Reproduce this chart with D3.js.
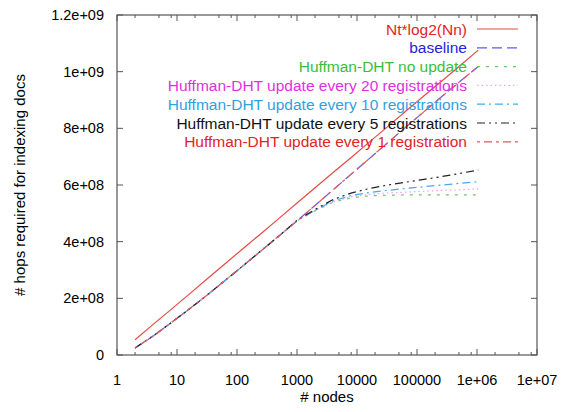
<!DOCTYPE html>
<html>
<head>
<meta charset="utf-8">
<script src="https://cdn.jsdelivr.net/npm/d3@7"></script>
<style>
  body { margin: 0; background: #fff; }
  svg { font-family: "Liberation Sans", Arial, Helvetica, sans-serif; }
</style>
</head>
<body>
<svg id="chart" width="565" height="412"></svg>
<script>
// nodes: powers of two, 2 .. 2^20
const nodes = [2, 4, 8, 16, 32, 64, 128, 256, 512, 1024, 2048, 4096, 8192, 16384,
               32768, 65536, 131072, 262144, 524288, 1048576];

// hops
const ntLog = [54e6, 108e6, 161e6, 215e6, 269e6, 323e6, 377e6, 430e6, 484e6, 538e6,
               592e6, 646e6, 699e6, 753e6, 807e6, 861e6, 915e6, 968e6, 1022e6, 1076e6];
const baseline = [25e6, 67e6, 114e6, 162e6, 212e6, 264e6, 316e6, 369e6, 422e6, 475e6,
                  530e6, 585e6, 640e6, 695e6, 750e6, 805e6, 859e6, 913e6, 966e6, 1018e6];
const noUpdate = [25e6, 67e6, 114e6, 162e6, 212e6, 264e6, 316e6, 369e6, 422e6, 475e6,
                  510e6, 540e6, 555e6, 562e6, 564e6, 565e6, 565e6, 565e6, 565e6, 565e6];
const every20 = [25e6, 67e6, 114e6, 162e6, 212e6, 264e6, 316e6, 369e6, 422e6, 475e6,
                 511e6, 542e6, 559e6, 567e6, 572e6, 575e6, 578e6, 581e6, 583e6, 586e6];
const every10 = [25e6, 67e6, 114e6, 162e6, 212e6, 264e6, 316e6, 369e6, 422e6, 476e6,
                 512e6, 545e6, 563e6, 574e6, 581e6, 588e6, 594e6, 600e6, 606e6, 612e6];
const every5 = [25e6, 67e6, 114e6, 162e6, 212e6, 264e6, 316e6, 369e6, 422e6, 477e6,
                515e6, 550e6, 572e6, 588e6, 600e6, 610e6, 620e6, 630e6, 641e6, 653e6];
const every1 = [25e6, 67e6, 114e6, 162e6, 212e6, 264e6, 316e6, 369e6, 422e6, 475e6,
                530e6, 585e6, 640e6, 695e6, 750e6, 805e6, 859e6, 913e6, 966e6, 1018e6];

const xTicks = [1, 10, 100, 1000, 10000, 100000, 1e6, 1e7];
const xTickLabels = ["1", "10", "100", "1000", "10000", "100000", "1e+06", "1e+07"];
const yTicks = [0, 2e8, 4e8, 6e8, 8e8, 1e9, 1.2e9];
const yTickLabels = ["0", "2e+08", "4e+08", "6e+08", "8e+08", "1e+09", "1.2e+09"];

const series = [
  {name: "Nt*log2(Nn)", values: ntLog, text: "#e02424", line: "#e84a44", dash: null},
  {name: "baseline", values: baseline, text: "#2424d8", line: "#5a5af0", dash: "10,5"},
  {name: "Huffman-DHT no update", values: noUpdate, text: "#38c038", line: "#66cc66", dash: "3,6"},
  {name: "Huffman-DHT update every 20 registrations", values: every20, text: "#e030e0", line: "#f0a0f0", dash: "1.5,3"},
  {name: "Huffman-DHT update every 10 registrations", values: every10, text: "#33a0e0", line: "#44aaee", dash: "8,4,2,4"},
  {name: "Huffman-DHT update every 5 registrations", values: every5, text: "#111111", line: "#222222", dash: "8,4,2,4,2,4"},
  {name: "Huffman-DHT update every 1 registration", values: every1, text: "#e02424", line: "#e05a5a", dash: "3,4,8,4"}
];

const svg = d3.select("#chart");
const mLeft = 117, mRight = 537, mTop = 15, mBottom = 355;

const x = d3.scaleLog().domain([1, 1e7]).range([mLeft, mRight]);
const y = d3.scaleLinear().domain([0, 1.2e9]).range([mBottom, mTop]);

const frame = "#555";

// minor ticks on x (2, 5, 8 per decade)
let minor = [];
for (let d = 0; d < 7; d++) {
  [2, 5, 8].forEach(m => minor.push(m * Math.pow(10, d)));
}

const g = svg.append("g");

// bottom / top ticks
g.selectAll(".xminor").data(minor).enter().append("line")
    .attr("x1", d => x(d)).attr("x2", d => x(d))
    .attr("y1", mBottom).attr("y2", mBottom - 3)
    .attr("stroke", frame);
g.selectAll(".xminorT").data(minor).enter().append("line")
    .attr("x1", d => x(d)).attr("x2", d => x(d))
    .attr("y1", mTop).attr("y2", mTop + 3)
    .attr("stroke", frame);
g.selectAll(".xmajor").data(xTicks).enter().append("line")
    .attr("x1", d => x(d)).attr("x2", d => x(d))
    .attr("y1", mBottom).attr("y2", mBottom - 6)
    .attr("stroke", frame);
g.selectAll(".xmajorT").data(xTicks).enter().append("line")
    .attr("x1", d => x(d)).attr("x2", d => x(d))
    .attr("y1", mTop).attr("y2", mTop + 6)
    .attr("stroke", frame);

// left / right ticks
g.selectAll(".yL").data(yTicks).enter().append("line")
    .attr("x1", mLeft).attr("x2", mLeft + 6)
    .attr("y1", d => y(d)).attr("y2", d => y(d))
    .attr("stroke", frame);
g.selectAll(".yR").data(yTicks).enter().append("line")
    .attr("x1", mRight).attr("x2", mRight - 6)
    .attr("y1", d => y(d)).attr("y2", d => y(d))
    .attr("stroke", frame);

// tick labels
g.selectAll(".xl").data(xTicks).enter().append("text")
    .attr("x", d => x(d)).attr("y", 385)
    .attr("text-anchor", "middle")
    .style("font-size", "14.5px")
    .text((d, i) => xTickLabels[i]);
g.selectAll(".yl").data(yTicks).enter().append("text")
    .attr("x", 104).attr("y", d => y(d) + 5)
    .attr("text-anchor", "end")
    .style("font-size", "14.5px")
    .text((d, i) => yTickLabels[i]);

// axis titles
svg.append("text")
    .attr("x", (mLeft + mRight) / 2).attr("y", 402)
    .attr("text-anchor", "middle")
    .style("font-size", "15px")
    .text("# nodes");
svg.append("text")
    .attr("transform", "translate(25," + ((mTop + mBottom) / 2) + ") rotate(-90)")
    .attr("text-anchor", "middle")
    .style("font-size", "15px")
    .text("# hops required for indexing docs");

// curves
const line = d3.line()
    .x((d, i) => x(nodes[i]))
    .y(d => y(d));

series.forEach(s => {
  svg.append("path")
      .datum(s.values)
      .attr("d", line)
      .attr("fill", "none")
      .attr("stroke", s.line)
      .attr("stroke-width", 1.2)
      .attr("stroke-dasharray", s.dash);
});

// legend
const legend = svg.append("g");
series.forEach((s, i) => {
  const ly = 29 + i * 18.8;
  legend.append("text")
      .attr("x", 467).attr("y", ly + 5.5)
      .attr("text-anchor", "end")
      .style("font-size", "15.5px")
      .attr("fill", s.text)
      .text(s.name);
  legend.append("line")
      .attr("x1", 477).attr("x2", 518)
      .attr("y1", ly).attr("y2", ly)
      .attr("stroke", s.line)
      .attr("stroke-width", 1.2)
      .attr("stroke-dasharray", s.dash);
});

// frame
svg.append("rect")
    .attr("x", mLeft).attr("y", mTop)
    .attr("width", mRight - mLeft).attr("height", mBottom - mTop)
    .attr("fill", "none")
    .attr("stroke", frame)
    .attr("stroke-width", 1.2);
</script>
</body>
</html>
